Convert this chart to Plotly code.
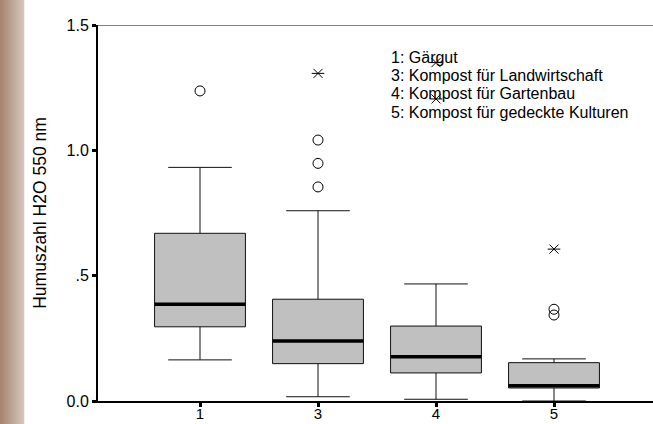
import plotly.graph_objects as go

# ---- data ----
groups = ["1", "3", "4", "5"]
positions = [1, 2, 3, 4]
q1 = [0.296, 0.149, 0.112, 0.052]
median = [0.386, 0.239, 0.177, 0.061]
q3 = [0.669, 0.406, 0.299, 0.153]
lower_whisker = [0.164, 0.017, 0.007, 0.0]
upper_whisker = [0.932, 0.759, 0.467, 0.168]

# outliers (circles) and extreme values (asterisks)
outlier_group = ["1", "3", "3", "3", "5", "5"]
outlier_value = [1.237, 1.041, 0.948, 0.854, 0.366, 0.343]
extreme_group = ["3", "4", "4", "5"]
extreme_value = [1.307, 1.350, 1.205, 0.606]

legend_lines = [
    "1: Gärgut",
    "3: Kompost für Landwirtschaft",
    "4: Kompost für Gartenbau",
    "5: Kompost für gedeckte Kulturen",
]
y_ticks = [0.0, 0.5, 1.0, 1.5]
y_ticklabels = ["0.0", ".5", "1.0", "1.5"]
y_title = "Humuszahl H2O 550 nm"

FONT = "Liberation Sans, Arial, sans-serif"
BOX_W = 0.77
pos_of = dict(zip(groups, positions))

fig = go.Figure()

fig.add_trace(go.Box(
    x=positions, q1=q1, median=median, q3=q3,
    lowerfence=lower_whisker, upperfence=upper_whisker,
    width=BOX_W, whiskerwidth=0.7,
    fillcolor="#c0c0c0", line=dict(color="#111111", width=1),
    boxpoints=False, showlegend=False, hoverinfo="skip",
))

# thick median lines
mx, my = [], []
for p, m in zip(positions, median):
    mx += [p - BOX_W / 2, p + BOX_W / 2, None]
    my += [m, m, None]
fig.add_trace(go.Scatter(x=mx, y=my, mode="lines",
                         line=dict(color="black", width=3.5),
                         showlegend=False, hoverinfo="skip"))

# outliers
fig.add_trace(go.Scatter(
    x=[pos_of[g] for g in outlier_group], y=outlier_value, mode="markers",
    marker=dict(symbol="circle-open", size=10, color="black", line=dict(width=1)),
    showlegend=False, hoverinfo="skip"))
# extremes (asterisk built from two symbols)
for sym in ["line-ew-open", "x-thin-open"]:
    fig.add_trace(go.Scatter(
        x=[pos_of[g] for g in extreme_group], y=extreme_value, mode="markers",
        marker=dict(symbol=sym, size=9, color="black", line=dict(width=1, color="black")),
        showlegend=False, hoverinfo="skip"))

# left brown gradient strip
n = 12
c0 = (166, 132, 112)
c1 = (212, 196, 186)
x_left = -98 / 555
strip_w = 24 / 555
for i in range(n):
    t = i / (n - 1)
    c = tuple(int(round(a + (b - a) * t)) for a, b in zip(c0, c1))
    fig.add_shape(type="rect", xref="paper", yref="paper",
                  x0=x_left + strip_w * i / n, x1=x_left + strip_w * (i + 1) / n + 0.0005,
                  y0=-23 / 376, y1=1 + 25 / 376,
                  fillcolor="rgb(%d,%d,%d)" % c, line=dict(width=0), layer="below")

# top line
fig.add_shape(type="line", xref="paper", yref="y", x0=0, x1=1, y0=1.5, y1=1.5,
              line=dict(color="#555555", width=1.5))

# legend text lines (pixel centers from reference)
line_centers = [57, 75.5, 94, 112.5]
for txt, yc in zip(legend_lines, line_centers):
    fig.add_annotation(
        xref="paper", yref="paper", x=(389 - 98) / 555, y=(401 - yc) / 376,
        xanchor="left", yanchor="middle", align="left", showarrow=False,
        text=txt, font=dict(family=FONT, size=16, color="black"))

fig.update_layout(
    width=653, height=424, autosize=False,
    margin=dict(l=98, r=0, t=25, b=23, pad=0, autoexpand=False),
    paper_bgcolor="white", plot_bgcolor="white",
    font=dict(family=FONT, size=16, color="black"),
    showlegend=False,
    xaxis=dict(range=[1 - 102 / 118, 4 + 99 / 118], tickvals=positions, ticktext=groups,
               showgrid=False, zeroline=False, showline=True, linecolor="black", linewidth=2,
               ticks="outside", ticklen=4, tickwidth=3, tickcolor="black",
               tickfont=dict(size=15), automargin=False, ticklabelstandoff=-6),
    yaxis=dict(range=[0, 1.5], tickvals=y_ticks, ticktext=y_ticklabels,
               showgrid=False, zeroline=False, showline=True, linecolor="black", linewidth=2,
               ticks="outside", ticklen=4, tickwidth=3, tickcolor="black",
               tickfont=dict(size=16), automargin=False,
               title=dict(text=y_title, font=dict(size=17.5), standoff=15)),
)

fig.write_html("out.html", config={"displayModeBar": False},
               post_script="document.body.style.margin='0';document.body.style.padding='0';")
